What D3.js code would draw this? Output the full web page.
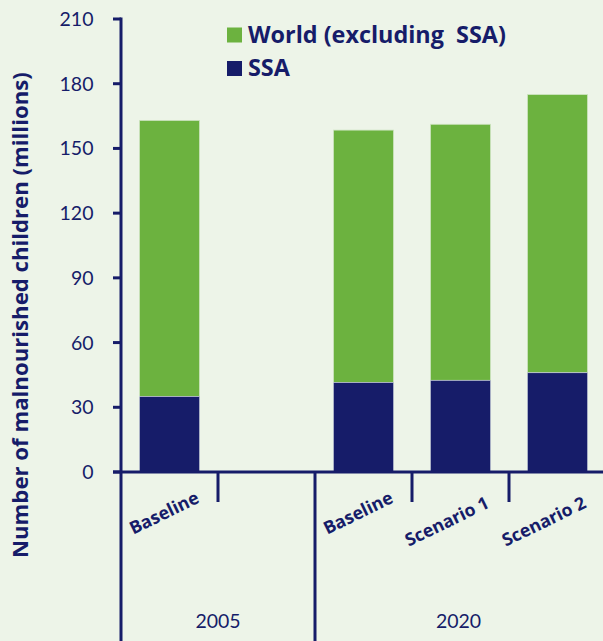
<!DOCTYPE html>
<html>
<head>
<meta charset="utf-8">
<script src="https://cdn.jsdelivr.net/npm/d3@7"></script>
<style>
  html, body { margin: 0; padding: 0; background: #edf4e8; }
  svg { display: block; }
  text { font-family: Lato, "Open Sans", sans-serif; fill: #161c69; }
  text.bold { font-family: "Open Sans", Lato, sans-serif; font-weight: 700; }
</style>
</head>
<body>
<svg id="chart" width="603" height="641"></svg>
<script>
// Malnourished children (millions), by scenario
const slots      = ["b2005", "gap", "b2020", "s1", "s2"];
const scenarios  = ["Baseline", "", "Baseline", "Scenario 1", "Scenario 2"];
const ssa        = [35, null, 41.5, 42.5, 46];
const worldTotal = [163, null, 158.5, 161.2, 175];
const years      = ["2005", "2020"];
const yearSpans  = [[0, 2], [2, 5]];   // slot index range covered by each year
const yTicks     = [0, 30, 60, 90, 120, 150, 180, 210];
const seriesNames = ["World (excluding  SSA)", "SSA"];

const NAVY = "#161c69", GREEN = "#6cb23f";

const svg = d3.select("#chart");
const x0 = 121, y0 = 472;

// scale a text element's font size so that its rendered length equals `len`
function fitLength(sel, len) {
  const base = 20;
  sel.attr("font-size", base);
  const w = sel.node().getComputedTextLength();
  sel.attr("font-size", base * len / w);
  return sel;
}

const y = d3.scaleLinear().domain([0, 210]).range([y0, 19]);
const x = d3.scaleBand().domain(slots).range([x0, 606]).paddingInner(0.38).paddingOuter(0.19);
const step = x.step();

// bars: SSA at the bottom, rest of world stacked on top
const rows = slots.map((s, i) => ({ slot: s, ssa: ssa[i], total: worldTotal[i] })).filter(d => d.ssa != null);

svg.append("g").selectAll("rect.world").data(rows).join("rect")
  .attr("x", d => x(d.slot)).attr("width", x.bandwidth())
  .attr("y", d => y(d.total)).attr("height", d => y(d.ssa) - y(d.total))
  .attr("fill", GREEN).attr("stroke", "#cfe4c2").attr("stroke-width", 0.8);

svg.append("g").selectAll("rect.ssa").data(rows).join("rect")
  .attr("x", d => x(d.slot)).attr("width", x.bandwidth())
  .attr("y", d => y(d.ssa)).attr("height", d => y(0) - y(d.ssa))
  .attr("fill", NAVY).attr("stroke", "#cfd6e0").attr("stroke-width", 0.6);

// y axis
const yAxis = svg.append("g");
yAxis.append("line").attr("x1", x0).attr("x2", x0).attr("y1", y(210) - 1.5).attr("y2", 641)
  .attr("stroke", NAVY).attr("stroke-width", 3);
yAxis.selectAll("line.tick").data(yTicks).join("line")
  .attr("x1", 113).attr("x2", x0).attr("y1", d => y(d)).attr("y2", d => y(d))
  .attr("stroke", NAVY).attr("stroke-width", 3);
yAxis.selectAll("text").data(yTicks).join("text")
  .attr("x", 93.5).attr("y", d => y(d)).attr("dy", "0.36em")
  .attr("text-anchor", "end").attr("font-size", 19.5).text(d => d);

// x baseline
svg.append("line").attr("x1", 113).attr("x2", 603).attr("y1", y0).attr("y2", y0)
  .attr("stroke", NAVY).attr("stroke-width", 3);

// separators between bars (short) and between years (long)
const bounds = d3.range(1, slots.length).map(i => x0 + i * step);
const yearBounds = yearSpans.map(s => x0 + s[0] * step);
svg.append("g").selectAll("line").data(bounds.filter(b => !yearBounds.some(v => Math.abs(v - b) < 1))).join("line")
  .attr("x1", d => d).attr("x2", d => d).attr("y1", y0).attr("y2", 502)
  .attr("stroke", NAVY).attr("stroke-width", 3);
svg.append("g").selectAll("line").data(yearBounds.filter(v => v > x0 + 1)).join("line")
  .attr("x1", d => d).attr("x2", d => d).attr("y1", y0).attr("y2", 641)
  .attr("stroke", NAVY).attr("stroke-width", 3);

// scenario labels, slanted
svg.append("g").selectAll("text")
  .data(slots.map((s, i) => ({ s, label: scenarios[i] })).filter(d => d.label)).join("text")
  .attr("class", "bold")
  .attr("transform", d => {
    const scen = d.label.startsWith("Scen");
    return `translate(${x(d.s) + x.bandwidth() / 2 + (scen ? 30 : 31)},${scen ? 507 : 502}) rotate(-26)`;
  })
  .attr("text-anchor", "end")
  .text(d => d.label)
  .each(function (d) { fitLength(d3.select(this), d.label.startsWith("Scen") ? 91 : 75); });

// year labels
svg.append("g").selectAll("text").data(years).join("text")
  .attr("x", (d, i) => x0 + (yearSpans[i][0] + yearSpans[i][1]) / 2 * step - (i === 1 ? 2 : 0))
  .attr("y", 628).attr("text-anchor", "middle").attr("font-size", 19.5)
  .text(d => d);

// y axis title
const title = svg.append("text").attr("class", "bold")
  .attr("transform", `translate(28,${558}) rotate(-90)`)
  .attr("text-anchor", "start")
  .text("Number of malnourished children (millions)");
fitLength(title, 486);

// legend
const legend = svg.append("g");
const legendColors = [GREEN, NAVY];
const legendY = [27.5, 61];
let legendSize = 20;
seriesNames.forEach((name, i) => {
  legend.append("rect").attr("x", 227).attr("y", legendY[i]).attr("width", 15).attr("height", 15).attr("fill", legendColors[i]);
  const t = legend.append("text").attr("class", "bold").attr("x", 248).attr("y", legendY[i] + 15)
    .style("white-space", "pre").text(name);
  if (i === 0) { fitLength(t, 258); legendSize = +t.attr("font-size"); }
  else t.attr("font-size", legendSize);
});
</script>
</body>
</html>
